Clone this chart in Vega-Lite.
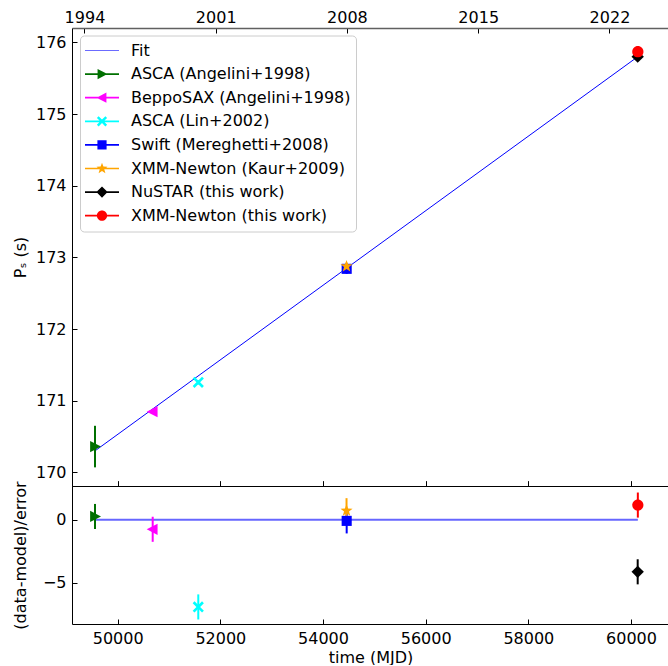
{
  "$schema": "https://vega.github.io/schema/vega-lite/v6.json",
  "padding": {"left": 11, "top": 9, "right": 0, "bottom": 0},
  "background": "white",
  "spacing": 0,
  "bounds": "flush",
  "config": {
    "font": "DejaVu Sans",
    "view": {"stroke": null},
    "axis": {
      "labelFont": "DejaVu Sans", "labelFontSize": 16, "titleFont": "DejaVu Sans", "titleFontSize": 16,
      "titleFontWeight": "normal", "labelColor": "black", "titleColor": "black", "tickColor": "black",
      "domainColor": "black", "grid": false, "tickSize": -5, "labelPadding": 11, "domainWidth": 1, "tickWidth": 1
    },
    "legend": {
      "title": null, "orient": "none", "legendX": 8, "legendY": 7.5, "symbolSize": 1156, "clipHeight": 20, "rowPadding": 3.6,
      "labelOffset": 12, "labelFontSize": 16, "labelFont": "DejaVu Sans", "labelColor": "black", "padding": 5,
      "strokeColor": "#cccccc", "fillColor": "white", "cornerRadius": 4, "symbolStrokeWidth": 0, "labelLimit": 400, "symbolOpacity": 1
    }
  },
  "datasets": {
    "obs": [
      {"series": "ASCA (Angelini+1998)", "t": 49558, "P": 170.36, "err": 0.29, "res": 0.27, "rerr": 1},
      {"series": "BeppoSAX (Angelini+1998)", "t": 50682, "P": 170.847, "err": 0.03, "res": -0.75, "rerr": 1},
      {"series": "ASCA (Lin+2002)", "t": 51570, "P": 171.256, "err": 0.03, "res": -6.94, "rerr": 1},
      {"series": "Swift (Mereghetti+2008)", "t": 54461, "P": 172.84, "err": 0.07, "res": -0.08, "rerr": 1},
      {"series": "XMM-Newton (Kaur+2009)", "t": 54458, "P": 172.875, "err": 0.05, "res": 0.73, "rerr": 1},
      {"series": "NuSTAR (this work)", "t": 60130, "P": 175.80, "err": 0.01, "res": -4.14, "rerr": 1},
      {"series": "XMM-Newton (this work)", "t": 60133, "P": 175.87, "err": 0.01, "res": 1.18, "rerr": 1}
    ],
    "fit": [
      {"t": 49558, "P": 170.30},
      {"t": 60133, "P": 175.80}
    ]
  },
  "vconcat": [
    {
      "width": 597, "height": 458,
      "layer": [
        {
          "data": {"name": "fit"},
          "mark": {"type": "line", "color": "#0000ff", "strokeWidth": 1},
          "encoding": {
            "x": {"field": "t", "type": "quantitative", "title": null, "scale": {"domain": [49110, 60740], "nice": false, "zero": false},
              "axis": {"orient": "bottom", "values": [50000, 52000, 54000, 56000, 58000, 60000], "labels": false}},
            "y": {"field": "P", "type": "quantitative", "title": "Pₛ (s)", "scale": {"domain": [169.81, 176.20], "nice": false, "zero": false},
              "axis": {"values": [170, 171, 172, 173, 174, 175, 176], "format": "d", "titleX": -44}}
          }
        },
        {
          "data": {"name": "obs"},
          "mark": {"type": "point", "filled": true, "size": 1400, "opacity": 0, "strokeWidth": 0},
          "encoding": {
            "x": {"field": "t", "type": "quantitative", "title": null,
              "axis": {"orient": "bottom", "values": [50000, 52000, 54000, 56000, 58000, 60000], "labels": false}},
            "y": {"field": "P", "type": "quantitative", "title": "Pₛ (s)"},
            "color": {"field": "series", "type": "nominal",
              "scale": {"domain": ["Fit", "ASCA (Angelini+1998)", "BeppoSAX (Angelini+1998)", "ASCA (Lin+2002)", "Swift (Mereghetti+2008)", "XMM-Newton (Kaur+2009)", "NuSTAR (this work)", "XMM-Newton (this work)"],
                "range": ["#6b6bff", "#007000", "#ff00ff", "#00ffff", "#0000ff", "#ffa500", "#000000", "#ff0000"]}},
            "shape": {"field": "series", "type": "nominal",
              "scale": {"domain": ["Fit", "ASCA (Angelini+1998)", "BeppoSAX (Angelini+1998)", "ASCA (Lin+2002)", "Swift (Mereghetti+2008)", "XMM-Newton (Kaur+2009)", "NuSTAR (this work)", "XMM-Newton (this work)"],
                "range": [
                  "M-1,-0.03L1,-0.03L1,0.03L-1,0.03Z",
                  "M-1,-0.05L1,-0.05L1,0.05L-1,0.05Z M0.32,0L-0.26,0.3L-0.26,-0.3Z",
                  "M-1,-0.05L1,-0.05L1,0.05L-1,0.05Z M-0.32,0L0.26,-0.3L0.26,0.3Z",
                  "M-1,-0.05L1,-0.05L1,0.05L-1,0.05Z M-0.3,-0.2L-0.2,-0.3L0,-0.1L0.2,-0.3L0.3,-0.2L0.1,0L0.3,0.2L0.2,0.3L0,0.1L-0.2,0.3L-0.3,0.2L-0.1,0Z",
                  "M-1,-0.05L1,-0.05L1,0.05L-1,0.05Z M-0.27,-0.27L0.27,-0.27L0.27,0.27L-0.27,0.27Z",
                  "M-1,-0.05L1,-0.05L1,0.05L-1,0.05Z M0,-0.34L0.082,-0.113L0.323,-0.105L0.133,0.043L0.2,0.275L0,0.14L-0.2,0.275L-0.133,0.043L-0.323,-0.105L-0.082,-0.113Z",
                  "M-1,-0.05L1,-0.05L1,0.05L-1,0.05Z M0,-0.33L0.33,0L0,0.33L-0.33,0Z",
                  "M-1,-0.05L1,-0.05L1,0.05L-1,0.05Z M0.3,0A0.3,0.3,0,1,1,-0.3,0A0.3,0.3,0,1,1,0.3,0Z"
                ]}}
          }
        },
        {
          "data": {"name": "obs"},
          "mark": {"type": "errorbar", "thickness": 2},
          "encoding": {
            "x": {"field": "t", "type": "quantitative", "title": null,
              "axis": {"orient": "bottom", "values": [50000, 52000, 54000, 56000, 58000, 60000], "labels": false}},
            "y": {"field": "P", "type": "quantitative", "title": "Pₛ (s)"},
            "yError": {"field": "err"},
            "color": {"field": "series", "type": "nominal",
              "scale": {"domain": ["Fit", "ASCA (Angelini+1998)", "BeppoSAX (Angelini+1998)", "ASCA (Lin+2002)", "Swift (Mereghetti+2008)", "XMM-Newton (Kaur+2009)", "NuSTAR (this work)", "XMM-Newton (this work)"],
                "range": ["#6b6bff", "#007000", "#ff00ff", "#00ffff", "#0000ff", "#ffa500", "#000000", "#ff0000"]}}
          }
        },
        {
          "data": {"name": "obs"},
          "mark": {"type": "point", "filled": true, "size": 1400, "opacity": 1, "strokeWidth": 0},
          "encoding": {
            "x": {"field": "t", "type": "quantitative", "title": null,
              "axis": {"orient": "top", "values": [49353, 51910, 54466, 57023, 59580], "labelPadding": 8,
                "labelExpr": "datum.value < 50000 ? '1994' : datum.value < 52000 ? '2001' : datum.value < 55000 ? '2008' : datum.value < 58000 ? '2015' : '2022'",
                "domainColor": "#606060", "domainWidth": 1.5}},
            "y": {"field": "P", "type": "quantitative", "title": "Pₛ (s)"},
            "color": {"field": "series", "type": "nominal",
              "scale": {"domain": ["Fit", "ASCA (Angelini+1998)", "BeppoSAX (Angelini+1998)", "ASCA (Lin+2002)", "Swift (Mereghetti+2008)", "XMM-Newton (Kaur+2009)", "NuSTAR (this work)", "XMM-Newton (this work)"],
                "range": ["#6b6bff", "#007000", "#ff00ff", "#00ffff", "#0000ff", "#ffa500", "#000000", "#ff0000"]}},
            "shape": {"condition": [
                {"test": "datum.series === 'ASCA (Angelini+1998)'", "value": "M0.32,0L-0.26,0.3L-0.26,-0.3Z"},
                {"test": "datum.series === 'BeppoSAX (Angelini+1998)'", "value": "M-0.32,0L0.26,-0.3L0.26,0.3Z"},
                {"test": "datum.series === 'ASCA (Lin+2002)'", "value": "M-0.3,-0.2L-0.2,-0.3L0,-0.1L0.2,-0.3L0.3,-0.2L0.1,0L0.3,0.2L0.2,0.3L0,0.1L-0.2,0.3L-0.3,0.2L-0.1,0Z"},
                {"test": "datum.series === 'Swift (Mereghetti+2008)'", "value": "M-0.27,-0.27L0.27,-0.27L0.27,0.27L-0.27,0.27Z"},
                {"test": "datum.series === 'XMM-Newton (Kaur+2009)'", "value": "M0,-0.34L0.082,-0.113L0.323,-0.105L0.133,0.043L0.2,0.275L0,0.14L-0.2,0.275L-0.133,0.043L-0.323,-0.105L-0.082,-0.113Z"},
                {"test": "datum.series === 'NuSTAR (this work)'", "value": "M0,-0.33L0.33,0L0,0.33L-0.33,0Z"}
              ],
              "value": "M0.3,0A0.3,0.3,0,1,1,-0.3,0A0.3,0.3,0,1,1,0.3,0Z"}
          }
        }
      ]
    },
    {
      "width": 597, "height": 138,
      "layer": [
        {
          "data": {"name": "fit"},
          "mark": {"type": "line", "color": "#0000ff", "opacity": 0.6, "strokeWidth": 2},
          "encoding": {
            "x": {"field": "t", "type": "quantitative", "title": "time (MJD)", "scale": {"domain": [49110, 60740], "nice": false, "zero": false},
              "axis": {"values": [50000, 52000, 54000, 56000, 58000, 60000], "format": "d", "titlePadding": 3}},
            "y": {"datum": 0, "type": "quantitative", "title": "(data-model)/error", "scale": {"domain": [-8.3, 2.7], "nice": false, "zero": false},
              "axis": {"values": [-5, 0], "titleX": -44}}
          }
        },
        {
          "data": {"name": "obs"},
          "mark": {"type": "errorbar", "thickness": 2},
          "encoding": {
            "x": {"field": "t", "type": "quantitative", "title": "time (MJD)"},
            "y": {"field": "res", "type": "quantitative", "title": "(data-model)/error"},
            "yError": {"field": "rerr"},
            "color": {"field": "series", "type": "nominal",
              "scale": {"domain": ["Fit", "ASCA (Angelini+1998)", "BeppoSAX (Angelini+1998)", "ASCA (Lin+2002)", "Swift (Mereghetti+2008)", "XMM-Newton (Kaur+2009)", "NuSTAR (this work)", "XMM-Newton (this work)"],
                "range": ["#6b6bff", "#007000", "#ff00ff", "#00ffff", "#0000ff", "#ffa500", "#000000", "#ff0000"]}}
          }
        },
        {
          "data": {"name": "obs"},
          "mark": {"type": "point", "filled": true, "size": 1400, "opacity": 1, "strokeWidth": 0},
          "encoding": {
            "x": {"field": "t", "type": "quantitative", "title": "time (MJD)"},
            "y": {"field": "res", "type": "quantitative", "title": "(data-model)/error"},
            "color": {"field": "series", "type": "nominal",
              "scale": {"domain": ["Fit", "ASCA (Angelini+1998)", "BeppoSAX (Angelini+1998)", "ASCA (Lin+2002)", "Swift (Mereghetti+2008)", "XMM-Newton (Kaur+2009)", "NuSTAR (this work)", "XMM-Newton (this work)"],
                "range": ["#6b6bff", "#007000", "#ff00ff", "#00ffff", "#0000ff", "#ffa500", "#000000", "#ff0000"]}},
            "shape": {"condition": [
                {"test": "datum.series === 'ASCA (Angelini+1998)'", "value": "M0.32,0L-0.26,0.3L-0.26,-0.3Z"},
                {"test": "datum.series === 'BeppoSAX (Angelini+1998)'", "value": "M-0.32,0L0.26,-0.3L0.26,0.3Z"},
                {"test": "datum.series === 'ASCA (Lin+2002)'", "value": "M-0.3,-0.2L-0.2,-0.3L0,-0.1L0.2,-0.3L0.3,-0.2L0.1,0L0.3,0.2L0.2,0.3L0,0.1L-0.2,0.3L-0.3,0.2L-0.1,0Z"},
                {"test": "datum.series === 'Swift (Mereghetti+2008)'", "value": "M-0.27,-0.27L0.27,-0.27L0.27,0.27L-0.27,0.27Z"},
                {"test": "datum.series === 'XMM-Newton (Kaur+2009)'", "value": "M0,-0.34L0.082,-0.113L0.323,-0.105L0.133,0.043L0.2,0.275L0,0.14L-0.2,0.275L-0.133,0.043L-0.323,-0.105L-0.082,-0.113Z"},
                {"test": "datum.series === 'NuSTAR (this work)'", "value": "M0,-0.33L0.33,0L0,0.33L-0.33,0Z"}
              ],
              "value": "M0.3,0A0.3,0.3,0,1,1,-0.3,0A0.3,0.3,0,1,1,0.3,0Z"}
          }
        }
      ]
    }
  ]
}
